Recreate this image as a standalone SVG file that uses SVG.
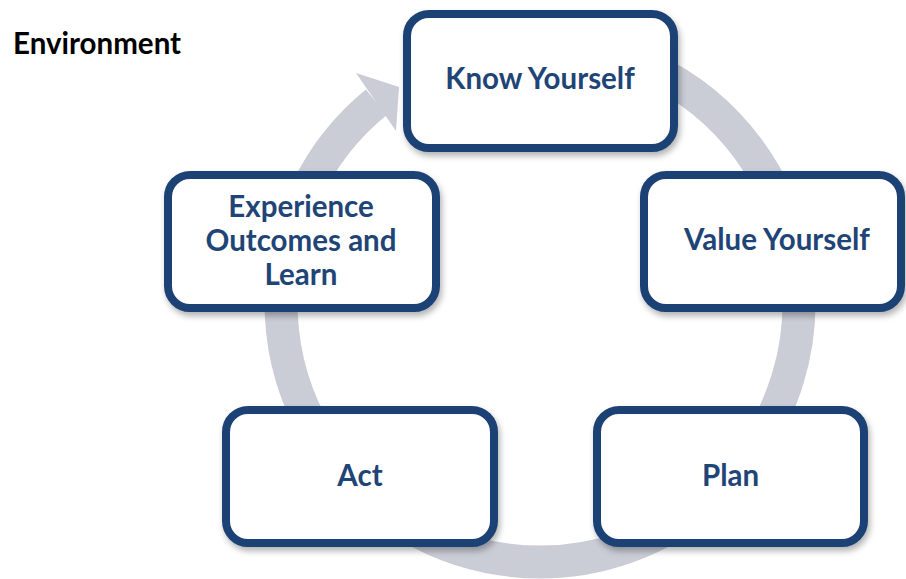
<svg xmlns="http://www.w3.org/2000/svg" width="906" height="579" viewBox="0 0 906 579">
<style>
.box{fill:#ffffff;stroke:#1F4374;stroke-width:8;filter:url(#sh)}
.lbl{font-family:Lato,"Open Sans","Liberation Sans",sans-serif;font-weight:bold;font-size:29.5px;fill:#1F4576;text-anchor:middle}
.ring{fill:none;stroke:#CACCD6;stroke-width:33}
</style>
<defs>
<filter id="sh" x="-10%" y="-10%" width="125%" height="130%">
<feDropShadow dx="2" dy="4" stdDeviation="3" flood-color="#000" flood-opacity="0.3"/>
</filter>
</defs>
<rect width="906" height="579" fill="#ffffff"/>
<text x="13" y="54" style="font-family:Lato,'Open Sans','Liberation Sans',sans-serif;font-weight:bold;font-size:29.5px;fill:#000">Environment</text>
<g id="connectors">
<path class="ring" d="M540,44 A259,259 0 1 1 376.3,102.3"/>
<polygon fill="#CACCD6" points="356,73 399,87 396,131"/>
</g>
<g id="know">
<rect class="box" x="407" y="14" width="267" height="134" rx="22"/>
<text class="lbl" x="540" y="89">Know Yourself</text>
</g>
<g id="value">
<rect class="box" x="644" y="175" width="257" height="133" rx="22"/>
<text class="lbl" x="777" y="250">Value Yourself</text>
</g>
<g id="plan">
<rect class="box" x="597" y="410" width="267" height="133" rx="22"/>
<text class="lbl" x="730.5" y="486">Plan</text>
</g>
<g id="act">
<rect class="box" x="226" y="410" width="268" height="133" rx="22"/>
<text class="lbl" x="360" y="486">Act</text>
</g>
<g id="experience">
<rect class="box" x="168" y="175" width="268" height="133" rx="22"/>
<text class="lbl" x="301" y="217">Experience</text>
<text class="lbl" x="301" y="251">Outcomes and</text>
<text class="lbl" x="301" y="285">Learn</text>
</g>
</svg>
